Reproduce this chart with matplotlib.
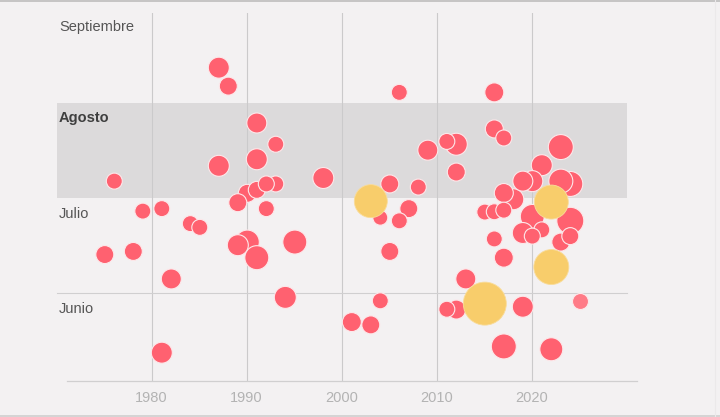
import matplotlib
matplotlib.use('Agg')
import matplotlib.pyplot as plt
from matplotlib.lines import Line2D

plt.rcParams['font.family'] = ['Liberation Sans', 'DejaVu Sans']

# y = days after 1 June, size = bubble radius
red_years = [1987, 1988, 1991, 1993, 1991, 1987, 1976, 1998, 1993, 1992, 1991, 1990, 1989, 1992, 1979, 1981,
             2006, 2016, 2016, 2017, 2012, 2011, 2009, 2012, 2023, 2021, 2020, 2019, 2023, 2024, 2017, 2018,
             2005, 2008, 2007, 2004, 2006, 2005, 2015, 2016, 2017, 2020, 2024, 2019, 2021, 2020, 2024, 2023,
             2016, 2017, 2013, 2012, 2011, 2019, 2004, 2003, 2001, 2017, 2022, 1984, 1985, 1990, 1989, 1991,
             1995, 1975, 1978, 1982, 1994, 1981]
red_days = [72.1, 66.2, 54.4, 47.6, 42.8, 40.7, 35.8, 36.8, 34.9, 34.9, 33.0, 31.9, 28.9, 27.0, 26.2, 27.0,
            64.2, 64.2, 52.5, 49.6, 47.6, 48.5, 45.7, 38.7, 46.7, 40.9, 35.8, 35.8, 35.8, 34.9, 32.0, 30.0,
            34.9, 33.9, 27.0, 24.1, 23.1, 13.3, 25.9, 26.0, 26.5, 24.5, 23.1, 19.2, 20.2, 18.2, 18.2, 16.3,
            17.3, 11.3, 4.5, -5.3, -5.2, -4.4, -2.5, -10.2, -9.3, -17.1, -18.0, 22.2, 21.0, 16.3, 15.3, 11.3,
            16.3, 12.3, 13.3, 4.5, -1.4, -19.1]
red_sizes = [10, 8.5, 9.5, 7.5, 10, 10, 7.5, 10, 7.5, 7.5, 8, 8.5, 8.5, 7.5, 7.5, 7.5,
             7.5, 9, 8.5, 7.5, 10.5, 7.5, 9.5, 8.5, 12, 10, 10, 9.5, 11.5, 12, 9, 10,
             8.5, 7.5, 8.5, 7, 7.5, 8.5, 7.5, 7.5, 7.5, 11.5, 13, 10, 7.5, 7.5, 8, 8.5,
             7.5, 9, 9.5, 9, 7.5, 10, 7.5, 8.5, 9, 12, 11, 7.5, 7.5, 11.5, 10, 11.5,
             11.5, 8.5, 8.5, 9.5, 10.5, 10]

yellow_years = [2003, 2022, 2022, 2015]
yellow_days = [29.4, 29.1, 8.3, -3.4]
yellow_sizes = [16, 16.5, 17, 21]

latest_years = [2025]
latest_days = [-2.5]
latest_sizes = [7.5]

x_ticks = [1980, 1990, 2000, 2010, 2020]
month_names = ['Septiembre', 'Agosto', 'Julio', 'Junio']
month_label_days = [85.1, 56, 25.3, -5.1]
june_start = 0
august_start = 30.4
september_start = 60.8


def to_s(sizes):
    return [((r + 0.5) * 2 * 0.72) ** 2 for r in sizes]


def shift(years):
    # bubbles sit a little to the right of the year gridlines
    return [y + 0.08 for y in years]


W, H = 720, 417
bg = '#f3f1f2'
fig = plt.figure(figsize=(W / 100, H / 100), dpi=100, facecolor=bg)
ax = fig.add_axes([67 / W, 1 - 381 / H, 570 / W, 368 / H], facecolor='none')
ax.set_xlim(1971.1, 2031.1)
ax.set_ylim(-28.16, 89.6)

ax.fill_between([1970.05, 2030.05], august_start, september_start, color='#dcdadb', lw=0, clip_on=False, zorder=0)
ax.plot([1970.05, 2030.05], [june_start, june_start], color='#d0cfd0', lw=0.8, clip_on=False, zorder=1)

ax.set_xticks(x_ticks)
ax.set_yticks([])
ax.grid(axis='x', color='#cbcacb', lw=0.8, zorder=1)
ax.set_axisbelow(True)
ax.tick_params(axis='x', length=0, pad=7, labelsize=10.5, labelcolor='#b3b3b3')
for name in ['top', 'left', 'right']:
    ax.spines[name].set_visible(False)
ax.spines['bottom'].set_color('#d0cfd0')
ax.spines['bottom'].set_linewidth(0.9)

order = sorted(range(len(red_sizes)), key=lambda i: -red_sizes[i])
ax.scatter(shift([red_years[i] for i in order]), [red_days[i] for i in order], s=to_s([red_sizes[i] for i in order]),
           color='#ff6170', edgecolor='#fde8ea', linewidth=0.8, zorder=3, clip_on=False)
ax.scatter(shift(latest_years), latest_days, s=to_s(latest_sizes), color='#ff7b87', edgecolor='#fde8ea',
           linewidth=0.8, zorder=3)
ax.scatter(shift(yellow_years), yellow_days, s=to_s(yellow_sizes), color='#f8cd6b', edgecolor='#f9dc9a',
           linewidth=0.6, zorder=4)

for name, day in zip(month_names, month_label_days):
    bold = name == 'Agosto'
    ax.text(1970.25, day, name, va='center', ha='left', fontsize=10.5, clip_on=False, zorder=5,
            color='#3f3f3f' if bold else '#555555', fontweight='bold' if bold else 'normal')

# frame around the screenshot
fig.add_artist(Line2D([0, 1], [1 - 0.5 / H, 1 - 0.5 / H], color='#bdbdbd', lw=1.2))
fig.add_artist(Line2D([0, 1], [0.8 / H, 0.8 / H], color='#cfcfcf', lw=1.2))
fig.add_artist(Line2D([715 / W, 715 / W], [0, 1], color='#ebe9ea', lw=0.8))

fig.savefig('out.png', dpi=100, facecolor=bg)
